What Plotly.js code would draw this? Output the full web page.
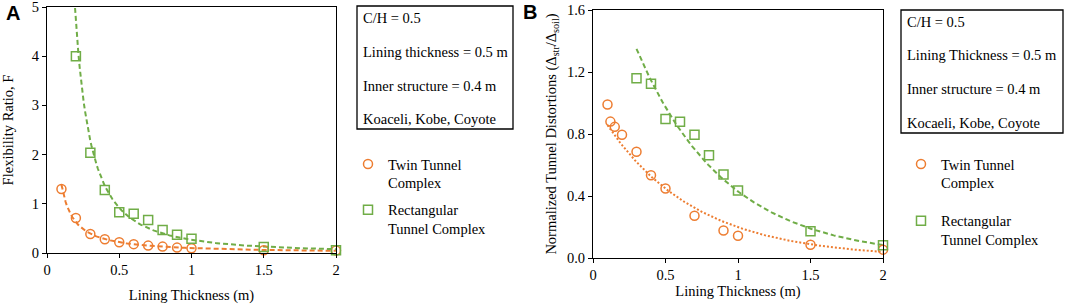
<!DOCTYPE html>
<html><head><meta charset="utf-8">
<script src="https://cdn.plot.ly/plotly-3.0.1.min.js"></script>
<style>html,body{margin:0;padding:0;background:#fff}#chart{width:1065px;height:308px}</style>
</head><body><div id="chart"></div>
<script>
// ---- Data ----
const thickA_twin = [0.1,0.2,0.3,0.4,0.5,0.6,0.7,0.8,0.9,1.0,1.5,2.0];
const flexA_twin  = [1.30,0.71,0.385,0.28,0.22,0.18,0.15,0.13,0.11,0.095,0.055,0.05];
const thickA_rect = [0.2,0.3,0.4,0.5,0.6,0.7,0.8,0.9,1.0,1.5,2.0];
const flexA_rect  = [4.0,2.04,1.28,0.83,0.80,0.67,0.47,0.37,0.29,0.12,0.055];

const thickB_twin = [0.1,0.12,0.15,0.2,0.3,0.4,0.5,0.7,0.9,1.0,1.5,2.0];
const distB_twin  = [0.99,0.88,0.846,0.795,0.685,0.534,0.448,0.273,0.177,0.144,0.086,0.054];
const thickB_rect = [0.3,0.4,0.5,0.6,0.7,0.8,0.9,1.0,1.5,2.0];
const distB_rect  = [1.16,1.124,0.896,0.879,0.795,0.663,0.538,0.435,0.172,0.082];

const seriesNames = ["Twin Tunnel<br>Complex", "Rectangular<br>Tunnel Complex"];
const infoA = ["C/H = 0.5","Lining thickness = 0.5 m","Inner structure = 0.4 m","Koaceli, Kobe, Coyote"];
const infoB = ["C/H = 0.5","Lining Thickness = 0.5 m","Inner structure = 0.4 m","Kocaeli, Kobe, Coyote"];
const panelLabels = ["A","B"];
const xTitle = "Lining Thickness (m)";
const yTitleA = "Flexibility Ratio, F";
const yTitleB = "Normalized Tunnel Distortions (\u0394<sub>str</sub>/\u0394<sub>soil</sub>)";

// ---- Trendline fitting (least squares, as a spreadsheet trendline) ----
function linfit(xs, ys){
  const n = xs.length; let mx=0,my=0; for(let i=0;i<n;i++){mx+=xs[i];my+=ys[i];} mx/=n; my/=n;
  let sxy=0,sxx=0; for(let i=0;i<n;i++){sxy+=(xs[i]-mx)*(ys[i]-my); sxx+=(xs[i]-mx)**2;}
  const b=sxy/sxx; return {b, a: my-b*mx};
}
function powerTrend(xs, ys, x0, x1){
  const f = linfit(xs.map(Math.log), ys.map(Math.log)); const a=Math.exp(f.a);
  const X=[],Y=[]; for(let i=0;i<=200;i++){const x=x0+(x1-x0)*i/200; X.push(x); Y.push(a*Math.pow(x,f.b));}
  return {X,Y};
}
function expTrend(xs, ys, x0, x1){
  const f = linfit(xs, ys.map(Math.log)); const a=Math.exp(f.a);
  const X=[],Y=[]; for(let i=0;i<=200;i++){const x=x0+(x1-x0)*i/200; X.push(x); Y.push(a*Math.exp(f.b*x));}
  return {X,Y};
}

const ORANGE = "#ED7D31", GREEN = "#70AD47";
const W=1065, H=308;
const px = v => v/W, py = v => 1 - v/H;

const tA1 = powerTrend(thickA_twin, flexA_twin, 0.1, 2);
const tA2 = powerTrend(thickA_rect, flexA_rect, 0.19, 2);
const tB1 = expTrend(thickB_twin, distB_twin, 0.1, 2);
const tB2 = expTrend(thickB_rect, distB_rect, 0.3, 2);

const mk = (sym,color)=>({symbol:sym, size:9, color:color, line:{color:color, width:1.5}});
const DASH = '5px,3px', DOT = '2px,2px';

const traces = [
  {x:tA1.X, y:tA1.Y, mode:'lines', line:{color:ORANGE, width:2, dash:DASH}, showlegend:false, hoverinfo:'skip', xaxis:'x', yaxis:'y'},
  {x:tA2.X, y:tA2.Y, mode:'lines', line:{color:GREEN, width:2, dash:DASH}, showlegend:false, hoverinfo:'skip', xaxis:'x', yaxis:'y'},
  {x:thickA_twin, y:flexA_twin, mode:'markers', name:seriesNames[0], marker:mk('circle-open',ORANGE), cliponaxis:false, xaxis:'x', yaxis:'y', legend:'legend', legendgroup:'a1'},
  {x:thickA_rect, y:flexA_rect, mode:'markers', name:seriesNames[1], marker:mk('square-open',GREEN), cliponaxis:false, xaxis:'x', yaxis:'y', legend:'legend', legendgroup:'a2'},
  {x:tB1.X, y:tB1.Y, mode:'lines', line:{color:ORANGE, width:2, dash:DOT}, showlegend:false, hoverinfo:'skip', xaxis:'x2', yaxis:'y2'},
  {x:tB2.X, y:tB2.Y, mode:'lines', line:{color:GREEN, width:2, dash:DASH}, showlegend:false, hoverinfo:'skip', xaxis:'x2', yaxis:'y2'},
  {x:thickB_twin, y:distB_twin, mode:'markers', name:seriesNames[0], marker:mk('circle-open',ORANGE), cliponaxis:false, xaxis:'x2', yaxis:'y2', legend:'legend2', legendgroup:'b1'},
  {x:thickB_rect, y:distB_rect, mode:'markers', name:seriesNames[1], marker:mk('square-open',GREEN), cliponaxis:false, xaxis:'x2', yaxis:'y2', legend:'legend2', legendgroup:'b2'}
];

const SERIF = 'Liberation Serif, Times New Roman, serif';
const SANS = 'Liberation Sans, Arial, sans-serif';
const FS = 14.5;
const axBase = {showline:true, linecolor:'#000', linewidth:1, mirror:true, ticks:'outside', ticklen:4, tickcolor:'#000',
  showgrid:false, zeroline:false, fixedrange:true, ticklabeloverflow:'allow', tickfont:{family:SERIF, size:FS, color:'#000'}};

const annotations = [];
infoA.forEach((t,i)=>annotations.push({text:t, xref:'paper', yref:'paper', x:px(361), y:py([18,52,86,119][i]), xanchor:'left', yanchor:'middle', showarrow:false, font:{family:SERIF,size:FS,color:'#000'}}));
infoB.forEach((t,i)=>annotations.push({text:t, xref:'paper', yref:'paper', x:px(905), y:py([22,55,89,123][i]), xanchor:'left', yanchor:'middle', showarrow:false, font:{family:SERIF,size:FS,color:'#000'}}));
annotations.push({text:'<b>'+panelLabels[0]+'</b>', xref:'paper', yref:'paper', x:px(4), y:py(13), xanchor:'left', yanchor:'middle', showarrow:false, font:{family:SANS, size:20, color:'#000'}});
annotations.push({text:'<b>'+panelLabels[1]+'</b>', xref:'paper', yref:'paper', x:px(521), y:py(12), xanchor:'left', yanchor:'middle', showarrow:false, font:{family:SANS, size:20, color:'#000'}});

const layout = {
  width:W, height:H, margin:{l:0,r:0,t:0,b:0}, paper_bgcolor:'#fff', plot_bgcolor:'#fff',
  font:{family:SERIF, size:FS, color:'#000'}, showlegend:true,
  xaxis: Object.assign({}, axBase, {domain:[px(47), px(336)], range:[0,2], dtick:0.5, anchor:'y',
     title:{text:xTitle, font:{family:SERIF,size:FS,color:'#000'}, standoff:12}}),
  yaxis: Object.assign({}, axBase, {domain:[1-253/H, 1-7/H], range:[0,5], dtick:1, anchor:'x',
     title:{text:yTitleA, font:{family:SERIF,size:FS,color:'#000'}, standoff:14}}),
  xaxis2: Object.assign({}, axBase, {domain:[px(593), px(883)], range:[0,2], dtick:0.5, anchor:'y2',
     title:{text:xTitle, font:{family:SERIF,size:FS,color:'#000'}, standoff:1}}),
  yaxis2: Object.assign({}, axBase, {domain:[1-258/H, 1-10/H], range:[0,1.6], dtick:0.4, tickformat:'.1f', anchor:'x2',
     title:{text:yTitleB, font:{family:SERIF,size:FS,color:'#000'}, standoff:6}}),
  legend: {x:px(348), y:py(148), xanchor:'left', yanchor:'top', bgcolor:'rgba(0,0,0,0)', borderwidth:0,
     font:{family:SERIF,size:FS,color:'#000'}, traceorder:'grouped', tracegroupgap:5, valign:'top', itemwidth:30},
  legend2: {x:px(901), y:py(148), xanchor:'left', yanchor:'top', bgcolor:'rgba(0,0,0,0)', borderwidth:0,
     font:{family:SERIF,size:FS,color:'#000'}, traceorder:'grouped', tracegroupgap:16, valign:'top', itemwidth:30},
  shapes: [
    {type:'rect', xref:'paper', yref:'paper', x0:px(357), x1:px(513), y0:py(129), y1:py(6), line:{color:'#000', width:1.3}},
    {type:'rect', xref:'paper', yref:'paper', x0:px(901), x1:px(1063), y0:py(133), y1:py(10), line:{color:'#000', width:1.3}}
  ],
  annotations
};
Plotly.newPlot('chart', traces, layout, {displayModeBar:false, staticPlot:true});
</script></body></html>
